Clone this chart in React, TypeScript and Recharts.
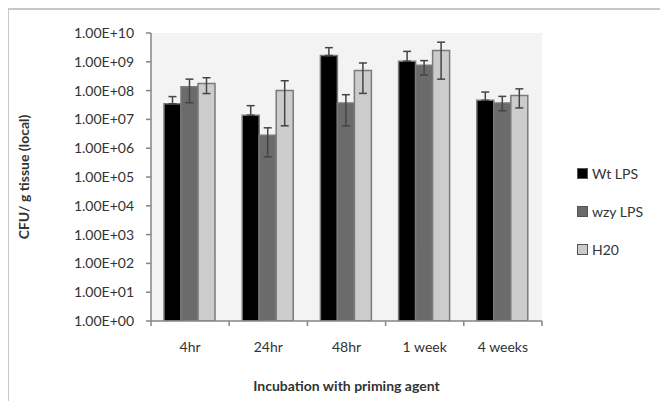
import {
  BarChart,
  Bar,
  XAxis,
  YAxis,
  ErrorBar,
  CartesianGrid,
  Legend,
  Label,
} from "recharts";

const categories = ["4hr", "24hr", "48hr", "1 week", "4 weeks"];

const wtLps = [3.5e7, 1.4e7, 1.65e9, 1.05e9, 4.6e7];
const wtErrHigh = [2.7e7, 1.6e7, 1.45e9, 1.25e9, 4.3e7];

const wzyLps = [1.35e8, 2.8e6, 3.7e7, 7.6e8, 3.7e7];
const wzyErrLow = [0.97e8, 2.3e6, 3.1e7, 4.1e8, 1.7e7];
const wzyErrHigh = [1.15e8, 2.3e6, 3.5e7, 3.4e8, 2.6e7];

const h20 = [1.75e8, 1.0e8, 5.0e8, 2.45e9, 6.7e7];
const h20ErrLow = [0.96e8, 0.94e8, 4.2e8, 2.2e9, 4.2e7];
const h20ErrHigh = [1.05e8, 1.2e8, 4.1e8, 2.35e9, 4.8e7];

const yTicks = [1, 1e1, 1e2, 1e3, 1e4, 1e5, 1e6, 1e7, 1e8, 1e9, 1e10];

const seriesNames = ["Wt LPS", "wzy LPS", "H20"];
const seriesColors = ["#000000", "#6b6b6b", "#cccccc"];

// lower whiskers of the black bars are hidden in the original
const data = categories.map((name, i) => ({
  name,
  wt: wtLps[i],
  wtErr: [0, wtErrHigh[i]],
  wzy: wzyLps[i],
  wzyErr: [wzyErrLow[i], wzyErrHigh[i]],
  h20: h20[i],
  h20Err: [h20ErrLow[i], h20ErrHigh[i]],
}));

const W = 668;
const H = 409;
const LEGEND_W = 90;
const X_AXIS_H = 30;
const M = { top: 33, right: 126 - LEGEND_W, bottom: 88 - X_AXIS_H, left: 0 };
const Y_AXIS_W = 151;
const FONT = "Lato, 'Open Sans', sans-serif";
const AXIS = "#868686";

const band = (W - M.left - 126 - Y_AXIS_W) / categories.length;

const fmtExp = (v: number) => {
  const e = Math.round(Math.log10(v));
  return `1.00E+${String(e).padStart(2, "0")}`;
};

function XTick(props: any) {
  const { x, y, payload, index } = props;
  const last = index === categories.length - 1;
  return (
    <g>
      <line x1={x - band / 2} x2={x - band / 2} y1={y} y2={y + 5} stroke={AXIS} strokeWidth={1.5} />
      {last && (
        <line x1={x + band / 2} x2={x + band / 2} y1={y} y2={y + 5} stroke={AXIS} strokeWidth={1.5} />
      )}
      <text x={x} y={y + 31} textAnchor="middle" fontSize={14} fill="#333" fontFamily={FONT}>
        {payload.value}
      </text>
    </g>
  );
}

function LegendBox() {
  return (
    <div style={{ fontFamily: FONT, fontSize: 14, color: "#333" }}>
      {seriesNames.map((n, i) => (
        <div key={n} style={{ display: "flex", alignItems: "center", height: 38 }}>
          <span
            style={{
              width: 9,
              height: 9,
              background: seriesColors[i],
              border: "1px solid #555",
              marginRight: 4,
            }}
          />
          {n}
        </div>
      ))}
    </div>
  );
}

export default function App() {
  return (
    <div style={{ position: "relative", width: W, height: H, margin: -8, background: "#fff" }}>
      <div
        style={{
          position: "absolute",
          left: 6,
          top: 8,
          right: -10,
          bottom: 0,
          borderTop: "2px solid #c8c8c8",
          borderLeft: "3px solid #c8c8c8",
          borderBottom: "1px solid #f0f0f0",
        }}
      />
      <div style={{ position: "absolute", left: 0, top: 0 }}>
        <BarChart
          width={W}
          height={H}
          data={data}
          margin={M}
          barCategoryGap={13}
          barGap={0}
        >
          <CartesianGrid fill="#f3f3f3" stroke="none" horizontal={false} vertical={false} />
          <XAxis
            dataKey="name"
            height={X_AXIS_H}
            tick={<XTick />}
            tickLine={false}
            tickSize={0}
            tickMargin={0}
            axisLine={{ stroke: AXIS, strokeWidth: 1.5 }}
            interval={0}
          >
            <Label
              value="Incubation with priming agent"
              position="insideBottom"
              offset={-40}
              style={{ fontFamily: FONT, fontSize: 14, fontWeight: 700, fill: "#333" }}
            />
          </XAxis>
          <YAxis
            width={Y_AXIS_W}
            scale="log"
            domain={[1, 1e10]}
            ticks={yTicks}
            allowDataOverflow
            tickFormatter={fmtExp}
            tickSize={5}
            tickMargin={12}
            tickLine={{ stroke: AXIS, strokeWidth: 1.5 }}
            axisLine={{ stroke: AXIS, strokeWidth: 1.5 }}
            tick={{ fontSize: 14, fill: "#333", fontFamily: FONT }}
            interval={0}
          >
            <Label
              value="CFU/ g tissue (local)"
              angle={-90}
              position="insideLeft"
              offset={24}
              style={{ fontFamily: FONT, fontSize: 14, fontWeight: 700, fill: "#333", textAnchor: "middle" }}
            />
          </YAxis>
          <Legend
            layout="vertical"
            align="right"
            verticalAlign="middle"
            content={<LegendBox />}
            wrapperStyle={{ left: 577, top: 154, width: LEGEND_W }}
          />
          <Bar dataKey="wt" fill={seriesColors[0]} stroke="#7a7a7a" strokeWidth={1.5} isAnimationActive={false}>
            <ErrorBar dataKey="wtErr" width={4} stroke="#444" strokeWidth={1.5} />
          </Bar>
          <Bar dataKey="wzy" fill={seriesColors[1]} stroke="#7a7a7a" strokeWidth={1.5} isAnimationActive={false}>
            <ErrorBar dataKey="wzyErr" width={4} stroke="#444" strokeWidth={1.5} />
          </Bar>
          <Bar dataKey="h20" fill={seriesColors[2]} stroke="#7a7a7a" strokeWidth={1.5} isAnimationActive={false}>
            <ErrorBar dataKey="h20Err" width={4} stroke="#444" strokeWidth={1.5} />
          </Bar>
        </BarChart>
      </div>
    </div>
  );
}
